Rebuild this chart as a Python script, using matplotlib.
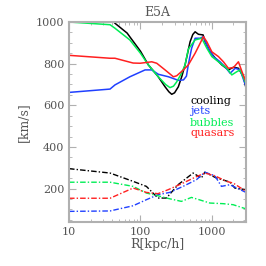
import numpy as np
import matplotlib
matplotlib.use("Agg")
from matplotlib import pyplot as plt
from matplotlib.ticker import MultipleLocator, FuncFormatter

# solid lines (upper group)
cool_x = [33, 44, 65, 71, 100, 129, 175, 221, 250, 274, 300, 339, 380, 421, 495, 540, 582, 648, 753, 804, 944, 1110, 1377, 1703, 2000, 2350, 2763, 3000]
cool_y = [1040, 994, 947, 929, 860, 794, 740, 689, 665, 653, 660, 689, 740, 794, 905, 940, 953, 941, 938, 905, 857, 827, 794, 770, 783, 778, 737, 683]

jets_x = [10, 37.5, 44, 71, 116, 144, 178, 247, 339, 400, 440, 470, 520, 582, 685, 760, 890, 1050, 1300, 1530, 1800, 2120, 2480, 3000]
jets_y = [662, 678, 698, 737, 770, 770, 749, 737, 720, 722, 740, 800, 874, 922, 922, 930, 874, 834, 809, 785, 754, 778, 770, 690]

bub_x = [10, 37.5, 44, 71, 100, 129, 178, 225, 259, 290, 322, 370, 421, 468, 582, 720, 850, 998, 1234, 1620, 1897, 2220, 2480, 2920]
bub_y = [1000, 987, 970, 914, 850, 794, 737, 700, 685, 692, 713, 750, 794, 870, 914, 922, 874, 834, 809, 778, 746, 761, 770, 713]

qso_x = [10, 37.5, 44, 79, 99, 144, 169, 221, 289, 322, 399, 468, 582, 685, 760, 850, 998, 1234, 1450, 1700, 2000, 2350, 2640, 3000]
qso_y = [840, 826, 826, 803, 802, 809, 802, 770, 737, 742, 770, 794, 850, 898, 930, 905, 857, 834, 809, 778, 781, 809, 761, 713]

# dash-dot lines (lower group)
cool_dx = [10, 37.5, 79, 121, 176, 231, 336, 546, 713, 796, 1157, 1781, 2093, 3000]
cool_dy = [296, 275, 235, 211, 155, 155, 219, 275, 251, 279, 251, 232, 203, 195]

jets_dx = [10, 37.5, 79, 121, 176, 257, 395, 607, 796, 1099, 1360, 1781, 3000]
jets_dy = [91, 93, 118, 147, 171, 182, 211, 243, 279, 262, 211, 219, 182]

bub_dx = [10, 37.5, 79, 121, 176, 231, 374, 517, 677, 935, 1436, 1983, 3000]
bub_dy = [231, 231, 211, 179, 166, 155, 139, 158, 146, 131, 128, 123, 103]

qso_dx = [10, 37.5, 79, 121, 176, 244, 395, 576, 796, 1099, 1597, 1983, 3000]
qso_dy = [154, 154, 203, 182, 176, 195, 227, 254, 275, 262, 235, 227, 187]

names = ['cooling', 'jets', 'bubbles', 'quasars']
colors = ['black', '#2040ff', '#00ee55', '#ff2020']

plt.rcParams['font.family'] = ['DejaVu Serif']
grey = '#555555'
spine = '#b0b0b0'

fig = plt.figure(figsize=(2.66, 2.66), dpi=100)
ax = fig.add_axes([69 / 266, 44 / 266, 177 / 266, 200 / 266])

solid = [(cool_x, cool_y), (jets_x, jets_y), (bub_x, bub_y), (qso_x, qso_y)]
dashed = [(cool_dx, cool_dy), (jets_dx, jets_dy), (bub_dx, bub_dy), (qso_dx, qso_dy)]
for (x, y), c in zip(solid, colors):
    ax.plot(x, y, color=c, lw=1.1)
for (x, y), c in zip(dashed, colors):
    ax.plot(x, y, color=c, lw=1.0, dashes=(4, 1.5, 1, 1.5))

ax.set_xscale('log')
ax.set_xlim(10, 3000)
ax.set_ylim(40, 1000)
ax.yaxis.set_major_locator(MultipleLocator(200))
ax.yaxis.set_minor_locator(MultipleLocator(50))
ax.tick_params(which='both', direction='in', top=True, right=True, colors=spine,
               labelcolor=grey, labelsize=8)
ax.tick_params(which='major', length=5, width=0.8)
ax.tick_params(which='minor', length=2.5, width=0.6)
ax.xaxis.set_major_formatter(FuncFormatter(lambda v, p: '%d' % v))
for s in ax.spines.values():
    s.set_color(spine)
    s.set_linewidth(1.5)

ax.set_title('E5A', color=grey, fontsize=9, pad=4)
ax.set_xlabel('R[kpc/h]', color=grey, fontsize=9, labelpad=1)
ax.set_ylabel('[km/s]', color=grey, fontsize=9, labelpad=4)

# legend as coloured words
for i, (n, c) in enumerate(zip(names, colors)):
    ax.text(0.684, 0.6075 - 0.055 * i, n, color=c, fontsize=8,
            transform=ax.transAxes, va='center', ha='left')

fig.savefig('out.png', dpi=100)
